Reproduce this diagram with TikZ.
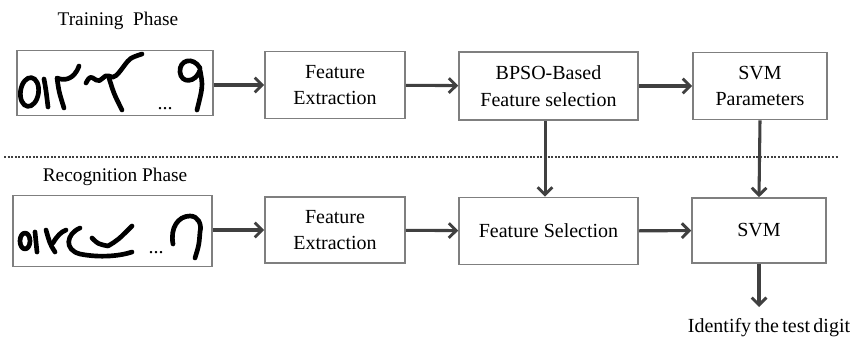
\documentclass[tikz,border=0pt]{standalone}
\usepackage{fontspec}
\setmainfont{Liberation Serif}
\usetikzlibrary{arrows.meta}
\definecolor{boxline}{HTML}{7F7F7F}
\definecolor{arrline}{HTML}{404040}
\begin{document}
\begin{tikzpicture}[x=0.75pt,y=-0.75pt,
  box/.style={draw=boxline,line width=1.2pt,fill=white,align=center,inner sep=0pt,
    font=\fontsize{15pt}{20pt}\selectfont},
  imgbox/.style={draw=boxline,line width=1.2pt,inner sep=0pt},
  arr/.style={draw=arrline,line width=2.3pt,-{Straight Barb[length=5.5pt,width=11pt,line width=2.2pt]}},
  pen/.style={draw=black,line width=3.5pt,line cap=round,line join=round},
  phase/.style={font=\fontsize{14.5pt}{17pt}\selectfont,inner sep=0pt},
  dots/.style={font=\fontsize{15pt}{17pt}\selectfont,inner sep=0pt,anchor=base}]
\useasboundingbox (0,0) rectangle (856,338);

% phase labels
\node[phase] (tp) at (118,21) {Training\ \ Phase};
\node[phase] (rp) at (115,177) {Recognition Phase};

% separator
\coordinate (sepL) at (4,157);
\coordinate (sepR) at (838,157);
\draw[draw=arrline,line width=1.7pt,dash pattern=on 1.5pt off 1.2pt] (sepL) -- (sepR);

% image boxes
\node[imgbox,minimum width=147pt,minimum height=48.75pt] (img1) at (115,83) {};
\node[imgbox,minimum width=149.25pt,minimum height=53.25pt] (img2) at (112.5,231) {};

% processing boxes (top row)
\node[box,minimum width=105pt,minimum height=50.25pt] (fe1) at (335,85) {Feature\\Extraction};
\node[box,minimum width=134.25pt,minimum height=51pt] (bpso) at (548.5,86) {BPSO-Based\\Feature selection};
\node[box,minimum width=100.5pt,minimum height=50.25pt] (svmp) at (760,86) {SVM\\Parameters};

% processing boxes (bottom row)
\node[box,minimum width=105pt,minimum height=49.5pt] (fe2) at (335,230) {Feature\\Extraction};
\node[box,minimum width=134.25pt,minimum height=50.25pt] (fs) at (548.5,231) {Feature Selection};
\node[box,minimum width=100.5pt,minimum height=48.75pt] (svm) at (759,230.5) {SVM};

% output
\node[font=\fontsize{15pt}{17pt}\selectfont,inner sep=0pt,anchor=base] (out) at (769,332) {Identify\,the\,test\,digit};
\coordinate (outtip) at (759,307);

% arrows
\draw[arr] (img1.east |- fe1.west) -- (fe1.west);
\draw[arr] (fe1) -- (bpso);
\draw[arr] (bpso) -- (svmp);
\draw[arr] (img2.east |- fe2.west) -- (fe2.west);
\draw[arr] (fe2) -- (fs);
\draw[arr] (fs) -- (svm);
\draw[arr] ([xshift=-2.6pt]bpso.south) -- ([xshift=-2.6pt]fs.north);
\draw[arr] (svmp.south) -- (svm.north);
\draw[arr] (svm.south) -- (outtip);

% handwritten digits, training
\draw[pen,rotate around={-8:(29.5,92)}] (29.5,92) ellipse [x radius=9,y radius=14.5];
\draw[pen] (44,79) .. controls (46,90) .. (48,107);
\draw[pen] (79,66) .. controls (74,80) and (64,81) .. (57,78) .. controls (59,92) .. (64,108);
\draw[pen] (86,83) .. controls (90,76) .. (96,80) .. controls (101,84) and (104,73) .. (109,76)
  .. controls (114,80) and (118,74) .. (124,66) .. controls (130,58) .. (142,54);
\draw[pen] (109,78) .. controls (114,94) .. (122,110);
\node[dots] (d1) at (165,110) {...};
\draw[pen] (200,68) .. controls (193,56) and (179,60) .. (180,72) .. controls (181,84) and (196,83) .. (200,70)
  .. controls (203,86) .. (197,110);

% handwritten digits, recognition
\draw[pen] (25,241) ellipse [x radius=5,y radius=8];
\draw[pen] (35,232) .. controls (36,242) .. (37,252);
\draw[pen] (46,230) .. controls (50,244) .. (55,252);
\draw[pen] (53,243) .. controls (57,236) and (61,232) .. (66,230);
\draw[pen] (80,228) .. controls (66,234) and (64,250) .. (80,254) .. controls (100,258) and (120,256) .. (132,252);
\draw[pen] (92,238) .. controls (98,244) .. (108,246) .. controls (118,240) .. (132,226);
\node[dots] (d2) at (156,253) {...};
\draw[pen] (173,244) .. controls (170,228) and (178,216) .. (190,216) .. controls (198,216) and (202,224) .. (200,232)
  .. controls (199,245) .. (195,258);
\end{tikzpicture}
\end{document}
